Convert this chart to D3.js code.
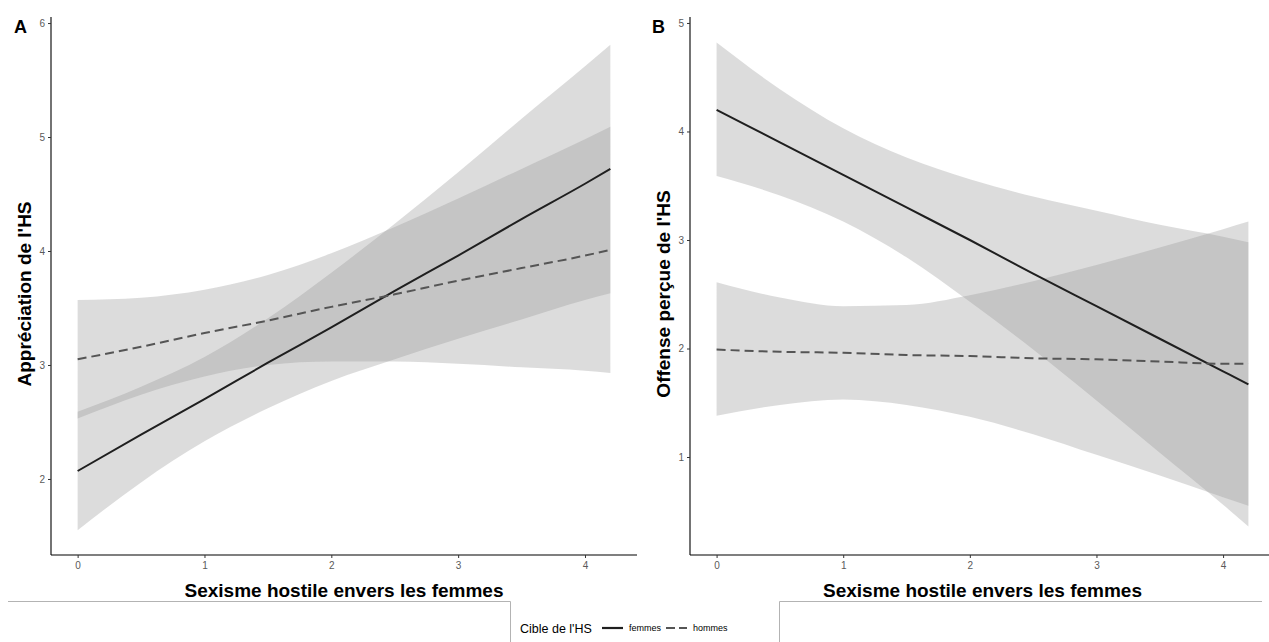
<!DOCTYPE html>
<html>
<head>
<meta charset="utf-8">
<script src="https://cdn.jsdelivr.net/npm/d3@7"></script>
<style>
  html, body { margin: 0; padding: 0; background: #fff; }
  svg { display: block; font-family: "Liberation Sans", Arial, sans-serif; }
</style>
</head>
<body>
<svg id="chart" width="1269" height="642"></svg>
<script>
// ---- data ----
const xGrid = [0, 0.5, 1, 1.5, 2, 2.5, 3, 3.5, 4, 4.2];
const xTicks = [0, 1, 2, 3, 4];
const yTicksA = [2, 3, 4, 5, 6];
const yTicksB = [1, 2, 3, 4, 5];
const groups = ["femmes", "hommes"];

// Panel A : Appréciation de l'HS
const aFemmesFit   = [2.07, 2.39, 2.70, 3.02, 3.33, 3.65, 3.96, 4.28, 4.59, 4.72];
const aFemmesLow   = [1.55, 1.97, 2.33, 2.62, 2.86, 3.05, 3.23, 3.40, 3.57, 3.63];
const aFemmesHigh  = [2.59, 2.81, 3.07, 3.41, 3.81, 4.24, 4.69, 5.16, 5.62, 5.81];
const aHommesFit   = [3.05, 3.16, 3.28, 3.39, 3.51, 3.62, 3.74, 3.85, 3.96, 4.01];
const aHommesLow   = [2.53, 2.74, 2.90, 3.00, 3.03, 3.03, 3.01, 2.98, 2.95, 2.93];
const aHommesHigh  = [3.57, 3.59, 3.66, 3.79, 3.98, 4.21, 4.46, 4.72, 4.98, 5.09];

// Panel B : Offense perçue de l'HS
const bFemmesFit   = [4.20, 3.90, 3.60, 3.30, 3.00, 2.69, 2.39, 2.09, 1.79, 1.67];
const bFemmesLow   = [3.59, 3.41, 3.17, 2.84, 2.43, 1.99, 1.52, 1.04, 0.56, 0.36];
const bFemmesHigh  = [4.82, 4.39, 4.03, 3.76, 3.56, 3.40, 3.27, 3.14, 3.03, 2.98];
const bHommesFit   = [1.99, 1.97, 1.96, 1.94, 1.93, 1.91, 1.90, 1.88, 1.86, 1.86];
const bHommesLow   = [1.38, 1.48, 1.53, 1.48, 1.37, 1.21, 1.02, 0.83, 0.63, 0.55];
const bHommesHigh  = [2.61, 2.47, 2.39, 2.40, 2.49, 2.62, 2.77, 2.93, 3.10, 3.17];

const xTitle = "Sexisme hostile envers les femmes";
const legendTitle = "Cible de l'HS";

// ---- drawing ----
const svg = d3.select("#chart");
const lineStyles = {
  femmes: { stroke: "#1f1f1f", dash: null },
  hommes: { stroke: "#555555", dash: "9,5" }
};

function panel(opts) {
  const x = d3.scaleLinear().domain([-0.21, 4.41]).range([opts.left, opts.right]);
  const y = d3.scaleLinear().domain(opts.yDomain).range([555, 17]);
  const g = svg.append("g");

  const series = [
    { key: "femmes", fit: opts.fFit, lo: opts.fLo, hi: opts.fHi },
    { key: "hommes", fit: opts.hFit, lo: opts.hLo, hi: opts.hHi }
  ];

  const area = d3.area()
    .x(d => x(d.x)).y0(d => y(d.lo)).y1(d => y(d.hi))
    .curve(d3.curveMonotoneX);
  const line = d3.line().x(d => x(d.x)).y(d => y(d.v)).curve(d3.curveMonotoneX);

  series.forEach(s => {
    const pts = xGrid.map((xv, i) => ({ x: xv, lo: s.lo[i], hi: s.hi[i] }));
    g.append("path").attr("d", area(pts))
      .attr("fill", "#999999").attr("fill-opacity", 0.34).attr("stroke", "none");
  });
  series.forEach(s => {
    const pts = xGrid.map((xv, i) => ({ x: xv, v: s.fit[i] }));
    const st = lineStyles[s.key];
    g.append("path").attr("d", line(pts))
      .attr("fill", "none").attr("stroke", st.stroke).attr("stroke-width", 2)
      .attr("stroke-dasharray", st.dash);
  });

  // axes
  const xAxis = g.append("g").attr("transform", "translate(0,555)")
    .call(d3.axisBottom(x).tickValues(xTicks).tickSize(3).tickPadding(4).tickFormat(d3.format("d")));
  const yAxis = g.append("g").attr("transform", `translate(${opts.left},0)`)
    .call(d3.axisLeft(y).tickValues(opts.yTicks).tickSize(3).tickPadding(3).tickFormat(d3.format("d")));
  [xAxis, yAxis].forEach(ax => {
    ax.select(".domain").attr("stroke", "#000").attr("stroke-width", 1.1);
    ax.selectAll(".tick line").attr("stroke", "#333");
    ax.selectAll(".tick text").attr("fill", "#5a5a5a").attr("font-size", 10)
      .attr("font-family", "'Liberation Sans', Arial, sans-serif");
  });
  xAxis.select(".domain").attr("d", `M${opts.left},0H${opts.right}`);
  yAxis.select(".domain").attr("d", `M0,555V17`);

  // titles
  g.append("text").attr("x", (opts.left + opts.right) / 2).attr("y", 597)
    .attr("text-anchor", "middle").attr("font-weight", "bold").attr("font-size", 19)
    .attr("fill", "#000").text(xTitle);
  g.append("text")
    .attr("transform", `translate(${opts.left - 20},${294}) rotate(-90)`)
    .attr("text-anchor", "middle").attr("font-weight", "bold").attr("font-size", 19)
    .attr("fill", "#000").text(opts.yTitle);
  g.append("text").attr("x", opts.tagX).attr("y", 33)
    .attr("font-weight", "bold").attr("font-size", 18).attr("fill", "#000").text(opts.tag);
}

panel({
  left: 51, right: 637, yDomain: [1.333, 6.053], yTicks: yTicksA,
  fFit: aFemmesFit, fLo: aFemmesLow, fHi: aFemmesHigh,
  hFit: aHommesFit, hLo: aHommesLow, hHi: aHommesHigh,
  yTitle: "Appréciation de l'HS", tag: "A", tagX: 14
});
panel({
  left: 690, right: 1275, yDomain: [0.097, 5.055], yTicks: yTicksB,
  fFit: bFemmesFit, fLo: bFemmesLow, fHi: bFemmesHigh,
  hFit: bHommesFit, hLo: bHommesLow, hHi: bHommesHigh,
  yTitle: "Offense perçue de l'HS", tag: "B", tagX: 652
});

// legend frame
const frame = svg.append("g").attr("stroke", "#b3b3b3").attr("stroke-width", 1).attr("fill", "none");
frame.append("path").attr("d", "M8,601.5H510.5V642");
frame.append("path").attr("d", "M1262,601.5H779.5V642");

const lg = svg.append("g").attr("transform", "translate(520,628)");
lg.append("text").attr("x", 0).attr("y", 4.5).attr("font-size", 12.5).attr("fill", "#000").text(legendTitle);
const keyX = d3.scalePoint().domain(groups).range([82, 146]);
groups.forEach(k => {
  const st = lineStyles[k];
  const kx = keyX(k);
  lg.append("line").attr("x1", kx).attr("x2", kx + 21).attr("y1", 0).attr("y2", 0)
    .attr("stroke", st.stroke).attr("stroke-width", 2.2)
    .attr("stroke-dasharray", k === "hommes" ? "9,4" : null);
  lg.append("text").attr("x", kx + 27).attr("y", 3).attr("font-size", 9)
    .attr("fill", "#000").text(k);
});
</script>
</body>
</html>
